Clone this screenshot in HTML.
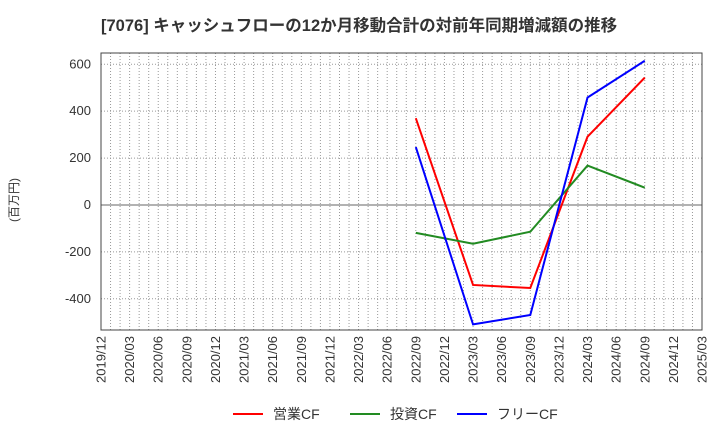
<!DOCTYPE html>
<html><head><meta charset="utf-8"><style>
body{margin:0;background:#fff;font-family:"Liberation Sans","Noto Sans CJK JP",sans-serif;}
</style></head><body>
<svg width="720" height="440" xmlns="http://www.w3.org/2000/svg" style="font-family:'Liberation Sans','Noto Sans CJK JP',sans-serif">
<text x="101" y="31" font-size="16.5" font-weight="bold" fill="#333">[7076]  キャッシュフローの12か月移動合計の対前年同期増減額の推移</text>
<text transform="translate(18,200) rotate(-90)" font-size="12" fill="#333" text-anchor="middle">(百万円)</text>
<g id="grid"></g>
<g id="series"></g>
<rect x="101" y="53" width="601" height="277" fill="none" stroke="#444" stroke-width="1"/>
<g id="legend" font-size="14" fill="#333">
<line x1="233" y1="414" x2="263" y2="414" stroke="#ff0000" stroke-width="2"/>
<text x="273" y="419">営業CF</text>
<line x1="350" y1="414" x2="380" y2="414" stroke="#228b22" stroke-width="2"/>
<text x="390" y="419">投資CF</text>
<line x1="457" y1="414" x2="487" y2="414" stroke="#0000ff" stroke-width="2"/>
<text x="497" y="419">フリーCF</text>
</g>
</svg>
<script>
const xLabels=["2019/12","2020/03","2020/06","2020/09","2020/12","2021/03","2021/06","2021/09","2021/12","2022/03","2022/06","2022/09","2022/12","2023/03","2023/06","2023/09","2023/12","2024/03","2024/06","2024/09","2024/12","2025/03"];
const yTicks=[-400,-200,0,200,400,600];
const dates=["2022/09","2023/03","2023/09","2024/03","2024/09"];
const operatingCF=[370,-341,-354,291,543];
const investingCF=[-119,-165,-114,168,74];
const freeCF=[247,-509,-469,458,615];
const NS="http://www.w3.org/2000/svg";
const L=101,R=702,T=53,B=330,yMin=-533,yMax=648,months=63;
function mi(d){const [y,m]=d.split('/').map(Number);return (y-2019)*12+(m-12);}
function xs(d){return L+mi(d)/months*(R-L);}
function ys(v){return B-(v-yMin)/(yMax-yMin)*(B-T);}
const grid=document.getElementById('grid');
function mk(tag,attrs,parent){const e=document.createElementNS(NS,tag);for(const k in attrs)e.setAttribute(k,attrs[k]);parent.appendChild(e);return e;}
for(let m=1;m<months;m++){const x=L+m/months*(R-L);
const g=mk('line',{x1:x,x2:x,y1:T,y2:B,stroke:'#999','stroke-dasharray':'1,2','stroke-width':1},grid);

}
yTicks.forEach(v=>{const y=ys(v);
const g=mk('line',{x1:L,x2:R,y1:y,y2:y,stroke:v===0?'#666':'#999','stroke-dasharray':v===0?'none':'1,2','stroke-width':1},grid);


const t=mk('text',{x:L-10,y:y+4,'text-anchor':'end','font-size':13,fill:'#333'},grid);t.textContent=v;

});
xLabels.forEach(d=>{const x=xs(d);
const t=mk('text',{transform:`translate(${x+4.5},${B+6}) rotate(-90)`,'text-anchor':'end','font-size':13,fill:'#333'},grid);t.textContent=d;

});
const ser=document.getElementById('series');
[[operatingCF,'#ff0000','operating-cf-line'],[investingCF,'#228b22','investing-cf-line'],[freeCF,'#0000ff','free-cf-line']].forEach(([vals,c,n])=>{
const p=mk('polyline',{points:vals.map((v,i)=>xs(dates[i])+','+ys(v)).join(' '),fill:'none',stroke:c,'stroke-width':2},ser);

});
</script>
</body></html>
